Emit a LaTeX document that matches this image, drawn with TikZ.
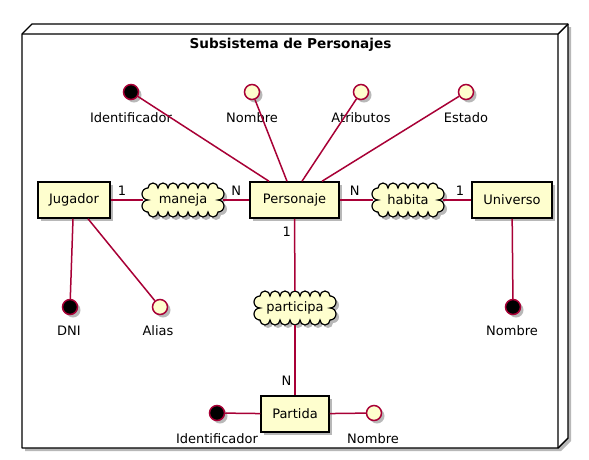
\documentclass[tikz,border=0pt]{standalone}
\usepackage{fontspec}
\setmainfont{DejaVu Sans}
\usetikzlibrary{shadows}
\definecolor{pcrim}{HTML}{A80036}
\definecolor{pfill}{HTML}{FEFECE}
\newcommand\pumlcloud[7]{%
  \pgfmathsetmacro\crx{#4/(2*#6)}%
  \pgfmathsetmacro\cry{#5/(2*#7)}%
  \path[#1] ({#2-#4/2},{#3+#5/2})
    \foreach \i in {1,...,#6}{ arc[start angle=180,end angle=0,radius=\crx pt] }
    \foreach \i in {1,...,#7}{ arc[start angle=90,end angle=-90,radius=\cry pt] }
    \foreach \i in {1,...,#6}{ arc[start angle=0,end angle=-180,radius=\crx pt] }
    \foreach \i in {1,...,#7}{ arc[start angle=270,end angle=90,radius=\cry pt] }
    -- cycle;%
}
\tikzset{
  psh/.style={drop shadow={shadow xshift=3pt,shadow yshift=-3pt,fill=black,opacity=0.28}},
  ent/.style={draw=black, line width=1.5pt, fill=pfill, minimum height=36pt, inner sep=0pt,
    font=\fontsize{13}{15}\selectfont, psh},
  attrc/.style={circle, draw=pcrim, line width=1.5pt, fill=pfill, minimum size=15pt, inner sep=0pt, psh},
  pkey/.style={attrc, fill=black},
  lbl/.style={font=\fontsize{13}{15}\selectfont, inner sep=0pt},
  rel/.style={font=\fontsize{13}{15}\selectfont, inner sep=0pt, minimum width=80pt, minimum height=34pt},
  conn/.style={draw=pcrim, line width=1.5pt},
  cloudsh/.style={fill=black, opacity=0.28, shift={(3,-3)}},
  cloudfg/.style={draw=black, line width=1.2pt, fill=pfill},
}
\begin{document}
\begin{tikzpicture}[x=1pt,y=1pt]
\useasboundingbox (0,0) rectangle (589,-459);
% package node (3D box)
\fill[black,opacity=0.28] (25,-37) -- (35,-27) -- (571,-27) -- (571,-441) -- (561,-451) -- (25,-451) -- cycle;
\draw[line width=1.4pt, fill=white, line join=round] (22,-34) -- (32,-24) -- (568,-24) -- (568,-438) -- (558,-448) -- (22,-448) -- cycle;
\draw[line width=1.4pt] (22,-34) -- (558,-34) -- (568,-24) (558,-34) -- (558,-448);
\node[font=\bfseries\fontsize{13.6}{16}\selectfont, inner sep=0pt] (title) at (290.5,-45) {Subsistema de Personajes};

% entities
\node[ent, minimum width=72pt] (jug) at (74,-200) {Jugador};
\node[ent, minimum width=89pt] (pers) at (294.5,-200) {Personaje};
\node[ent, minimum width=80pt] (univ) at (512,-200) {Universo};
\node[ent, minimum width=68pt] (part) at (295,-414) {Partida};

% relationships (clouds)
\pumlcloud{cloudsh}{183}{-200}{70}{24}{7}{2}
\pumlcloud{cloudfg}{183}{-200}{70}{24}{7}{2}
\node[rel, minimum width=80pt] (maneja) at (183,-200) {maneja};
\pumlcloud{cloudsh}{408}{-200}{60}{24}{6}{2}
\pumlcloud{cloudfg}{408}{-200}{60}{24}{6}{2}
\node[rel, minimum width=70pt] (habita) at (408,-200) {habita};
\pumlcloud{cloudsh}{295}{-308}{70}{24}{7}{2}
\pumlcloud{cloudfg}{295}{-308}{70}{24}{7}{2}
\node[rel, minimum width=80pt] (participa) at (295,-308) {participa};

% attributes
\node[pkey] (pid) at (131,-92) {};
\node[lbl] (pidl) at (131,-118) {Identificador};
\node[attrc] (pnom) at (252,-92) {};
\node[lbl] (pnoml) at (252,-118) {Nombre};
\node[attrc] (patr) at (361,-92) {};
\node[lbl] (patrl) at (361,-118) {Atributos};
\node[attrc] (pest) at (466,-92) {};
\node[lbl] (pestl) at (466,-118) {Estado};

\node[pkey] (dni) at (70,-307) {};
\node[lbl] (dnil) at (69,-331) {DNI};
\node[attrc] (alias) at (160,-307) {};
\node[lbl] (aliasl) at (158,-331) {Alias};

\node[pkey] (unom) at (513,-307) {};
\node[lbl] (unoml) at (512,-331) {Nombre};

\node[pkey] (paid) at (217,-413) {};
\node[lbl] (paidl) at (217,-439) {Identificador};
\node[attrc] (panom) at (374,-413) {};
\node[lbl] (panoml) at (373,-439) {Nombre};

% connectors
\draw[conn] (pid) -- ([xshift=-25.5pt]pers.north);
\draw[conn] (pnom) -- ([xshift=-7.5pt]pers.north);
\draw[conn] (patr) -- ([xshift=7.5pt]pers.north);
\draw[conn] (pest) -- ([xshift=27.5pt]pers.north);

\draw[conn] (jug) -- (maneja) node[lbl, pos=0.35, above=4pt] (m1) {1};
\draw[conn] (maneja) -- (pers) node[lbl, pos=0.5, above=4pt] (m2) {N};
\draw[conn] (pers) -- (habita) node[lbl, pos=0.45, above=4pt] (h1) {N};
\draw[conn] (habita) -- (univ) node[lbl, pos=0.6, above=4pt] (h2) {1};
\draw[conn] (pers) -- (participa) node[lbl, pos=0.18, left=3pt] (p1) {1};
\draw[conn] (participa) -- (part) node[lbl, pos=0.8, left=3pt] (p2) {N};

\draw[conn] ([xshift=-1pt]jug.south) -- (dni);
\draw[conn] ([xshift=14pt]jug.south) -- (alias);
\draw[conn] (univ) -- (unom);
\draw[conn] (paid) -- (part);
\draw[conn] (part) -- (panom);
\end{tikzpicture}
\end{document}
